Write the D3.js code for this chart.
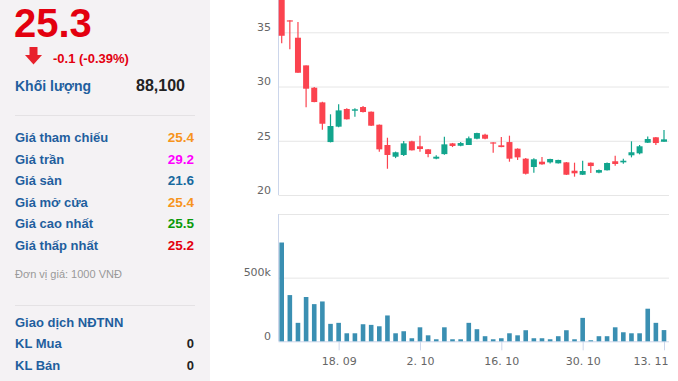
<!DOCTYPE html>
<html><head><meta charset="utf-8">
<script src="https://cdn.jsdelivr.net/npm/d3@7"></script>
<style>body{margin:0;background:#fff}svg{display:block}</style>
</head><body><svg id="c" width="678" height="381"></svg>
<script>
// ---------- DATA ----------
const dates = ["2023-09-07","2023-09-08","2023-09-11","2023-09-12","2023-09-13","2023-09-14","2023-09-15","2023-09-18","2023-09-19","2023-09-20","2023-09-21","2023-09-22","2023-09-25","2023-09-26","2023-09-27","2023-09-28","2023-09-29",
"2023-10-02","2023-10-03","2023-10-04","2023-10-05","2023-10-06","2023-10-09","2023-10-10","2023-10-11","2023-10-12","2023-10-13","2023-10-16","2023-10-17","2023-10-18","2023-10-19","2023-10-20","2023-10-23","2023-10-24","2023-10-25","2023-10-26","2023-10-27","2023-10-30","2023-10-31",
"2023-11-01","2023-11-02","2023-11-03","2023-11-06","2023-11-07","2023-11-08","2023-11-09","2023-11-10","2023-11-13"];
const openP  = [38.0,36.1,34.5,31.95,29.89,28.54,24.88,26.3,27.93,27.77,28.11,27.68,26.48,24.61,23.53,23.69,24.95,24.49,24.21,23.35,23.77,24.76,24.54,24.61,25.19,25.56,24.85,24.58,24.88,24.27,23.35,22.58,23.07,23.01,22.92,23.01,22.24,21.87,22.98,22.06,22.28,23.11,23.01,23.66,23.84,24.82,25.32,24.91];
const highP  = [38.5,36.12,35.94,31.95,29.95,28.6,27.44,28.36,28.0,28.0,28.2,27.7,26.5,25.28,24.0,24.97,25.0,25.47,24.25,23.66,25.37,24.8,24.88,25.4,25.75,25.65,24.87,25.35,25.47,24.3,23.4,23.38,23.5,23.35,23.25,23.05,22.98,23.16,23.0,22.35,23.0,23.62,23.35,24.95,24.61,25.4,25.35,25.99];
const lowP   = [33.98,33.43,31.27,28.1,28.55,26.02,24.85,26.25,26.95,27.22,27.6,26.35,23.99,22.42,23.4,23.6,24.1,23.99,23.47,23.3,23.7,24.42,24.5,24.6,25.15,25.15,23.9,24.4,23.07,23.23,21.9,22.06,22.8,22.9,22.9,21.85,21.69,21.85,22.03,22.0,22.25,22.7,22.88,23.47,23.75,24.8,24.61,24.9];
const closeP = [34.68,36.0,31.27,29.8,28.57,26.57,26.36,27.8,26.98,27.9,27.65,26.39,24.21,23.69,23.94,24.76,24.12,24.24,23.78,23.53,24.67,24.52,24.79,25.23,25.71,25.19,24.8,24.42,23.35,23.47,21.96,23.29,22.83,23.32,23.23,21.87,22.0,22.21,22.67,22.3,22.95,22.86,23.16,23.94,24.49,25.16,24.79,25.13];
const volume = [776000,363000,145000,348000,292000,313000,137000,145000,63000,63000,134000,129000,118000,203000,63000,79000,24000,110000,47000,16000,110000,16000,16000,145000,95000,40000,16000,24000,63000,47000,87000,24000,24000,16000,40000,87000,16000,184000,8000,40000,40000,110000,71000,63000,63000,256000,145000,88100];
const priceTicks = [20,25,30,35];
const volTicks = [0,500000];
const xTickDates = ["2023-09-18","2023-10-02","2023-10-16","2023-10-30","2023-11-13"];
const xTickLabels = ["18. 09","2. 10","16. 10","30. 10","13. 11"];

const infoLabels = ["Giá tham chiếu","Giá trần","Giá sàn","Giá mở cửa","Giá cao nhất","Giá thấp nhất"];
const infoValues = ["25.4","29.2","21.6","25.4","25.5","25.2"];
const infoColors = ["#f7941d","#f0f","#17699e","#f7941d","#0a9a0a","#e3000f"];

// ---------- DRAW ----------
const svg = d3.select("#c");
const F = "'Liberation Sans', Arial, sans-serif";
const labelBlue = "#1f5f9e";

// left panel
svg.append("rect").attr("x",0).attr("y",0).attr("width",210).attr("height",381).attr("fill","#f4f2f4");
svg.append("text").attr("x",14).attr("y",37).attr("font-family",F).attr("font-weight","bold")
  .attr("font-size",40).attr("fill","#e3000f").text("25.3");
// arrow
const ag = svg.append("g");
ag.append("rect").attr("x",29.5).attr("y",47).attr("width",8).attr("height",8).attr("fill","#e8212b");
ag.append("path").attr("d","M25,55 L42,55 L33.5,64.5 Z").attr("fill","#e8212b");
svg.append("text").attr("x",53).attr("y",63).attr("font-family",F).attr("font-weight","bold")
  .attr("font-size",13).attr("fill","#e3000f").text("-0.1 (-0.39%)");
svg.append("text").attr("x",15).attr("y",91).attr("font-family",F).attr("font-weight","bold")
  .attr("font-size",14).attr("fill",labelBlue).text("Khối lượng");
svg.append("text").attr("x",185).attr("y",91).attr("text-anchor","end").attr("font-family",F).attr("font-weight","bold")
  .attr("font-size",16).attr("fill","#222").text("88,100");
svg.append("line").attr("x1",15).attr("x2",195).attr("y1",115.5).attr("y2",115.5).attr("stroke","#e4e2e4");
infoLabels.forEach((l,i)=>{
  const y = 142 + i*21.5;
  svg.append("text").attr("x",15).attr("y",y).attr("font-family",F).attr("font-weight","bold")
    .attr("font-size",13).attr("fill",labelBlue).text(l);
  svg.append("text").attr("x",194).attr("y",y).attr("text-anchor","end").attr("font-family",F).attr("font-weight","bold")
    .attr("font-size",13.5).attr("fill",infoColors[i]).text(infoValues[i]);
});
svg.append("text").attr("x",15).attr("y",278).attr("font-family",F)
  .attr("font-size",11).attr("fill","#999").text("Đơn vị giá: 1000 VNĐ");
svg.append("line").attr("x1",15).attr("x2",195).attr("y1",305.5).attr("y2",305.5).attr("stroke","#e4e2e4");
svg.append("text").attr("x",15).attr("y",327).attr("font-family",F).attr("font-weight","bold")
  .attr("font-size",13).attr("fill",labelBlue).text("Giao dịch NĐTNN");
[["KL Mua",348],["KL Bán",370]].forEach(([t,y])=>{
  svg.append("text").attr("x",15).attr("y",y).attr("font-family",F).attr("font-weight","bold")
    .attr("font-size",13).attr("fill",labelBlue).text(t);
  svg.append("text").attr("x",194).attr("y",y).attr("text-anchor","end").attr("font-family",F).attr("font-weight","bold")
    .attr("font-size",13).attr("fill","#222").text("0");
});

// chart
const AX = "'DejaVu Sans', Verdana, sans-serif";
const left = 278.5, right = 669;
const x = d3.scalePoint().domain(dates).range([281.7, 664]);
const yP = d3.scaleLinear().domain([20,35]).range([195,32.3]);
const yV = d3.scaleLinear().domain([0,1000000]).range([341.3,214]);

// price grid
const gP = svg.append("g").attr("transform",`translate(${left},0)`)
  .call(d3.axisRight(yP).tickValues(priceTicks).tickSize(right-left).tickFormat(""));
gP.select(".domain").remove();
gP.selectAll("line").attr("stroke","#e6e6e6");
// volume grid
const gV = svg.append("g").attr("transform",`translate(${left},0)`)
  .call(d3.axisRight(yV).tickValues([500000,1000000]).tickSize(right-left).tickFormat(""));
gV.select(".domain").remove();
gV.selectAll("line").attr("stroke","#e6e6e6");

// y axis lines
svg.append("line").attr("x1",left).attr("x2",left).attr("y1",0).attr("y2",195).attr("stroke","#ccd6eb");
svg.append("line").attr("x1",left).attr("x2",left).attr("y1",214).attr("y2",341.3).attr("stroke","#ccd6eb");

// y labels
const yl = svg.append("g").attr("transform","translate(271,0)")
  .call(d3.axisLeft(yP).tickValues(priceTicks).tickSize(0).tickPadding(0).tickFormat(d3.format("d")));
yl.select(".domain").remove();
yl.selectAll("text").attr("font-family",AX).attr("font-size",11).attr("fill","#666").attr("dy","-0.15em");
const vl = svg.append("g").attr("transform","translate(271,0)")
  .call(d3.axisLeft(yV).tickValues(volTicks).tickSize(0).tickPadding(0).tickFormat(d=>d===0?"0":(d/1000)+"k"));
vl.select(".domain").remove();
vl.selectAll("text").attr("font-family",AX).attr("font-size",11).attr("fill","#666").attr("dy","-0.2em");

// x axis
const xa = svg.append("g").attr("transform","translate(0,341.3)")
  .call(d3.axisBottom(x).tickValues(xTickDates).tickSize(9).tickPadding(7)
    .tickFormat(d=>xTickLabels[xTickDates.indexOf(d)]));
xa.select(".domain").attr("d",`M${left},0.5H${right}`).attr("stroke","#ccd6eb");
xa.selectAll("line").attr("stroke","#ccd6eb");
xa.selectAll("text").attr("font-family",AX).attr("font-size",11).attr("fill","#666");
// keep the last label inside the chart, like the reference
xa.selectAll("text").filter(d=>d===xTickDates[xTickDates.length-1])
  .attr("text-anchor","end").attr("x",668-x(xTickDates[xTickDates.length-1]));

// volume bars
svg.append("g").selectAll("rect").data(dates).join("rect")
  .attr("x",d=>x(d)-2.3).attr("width",4.6)
  .attr("y",(d,i)=>yV(volume[i])).attr("height",(d,i)=>yV(0)-yV(volume[i]))
  .attr("fill","#3a8fb2");

// candles
const up = "#12a58d", dn = "#fb434f";
const cg = svg.append("g").selectAll("g").data(dates).join("g");
cg.append("line")
  .attr("x1",d=>x(d)).attr("x2",d=>x(d))
  .attr("y1",(d,i)=>yP(highP[i])).attr("y2",(d,i)=>yP(lowP[i]))
  .attr("stroke",(d,i)=>closeP[i]>=openP[i]?up:dn).attr("stroke-width",1.2);
cg.append("rect")
  .attr("x",d=>x(d)-3).attr("width",6)
  .attr("y",(d,i)=>yP(Math.max(openP[i],closeP[i])))
  .attr("height",(d,i)=>Math.max(1.2,Math.abs(yP(openP[i])-yP(closeP[i]))))
  .attr("fill",(d,i)=>closeP[i]>=openP[i]?up:dn);
</script></body></html>
